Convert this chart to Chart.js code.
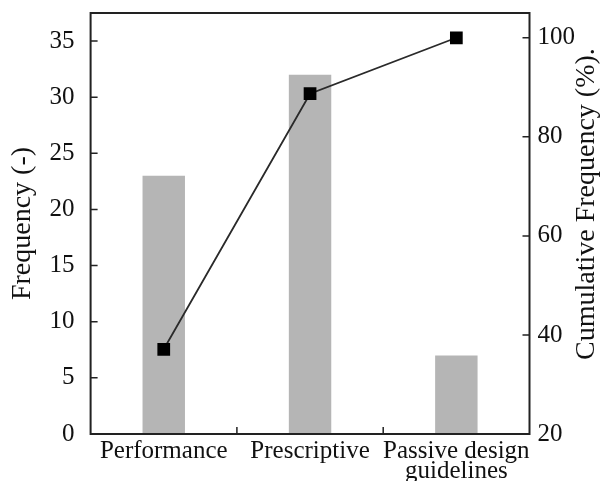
<!DOCTYPE html>
<html>
<head>
  <meta charset="utf-8">
  <title>Frequency and cumulative frequency</title>
  <script src="https://cdn.jsdelivr.net/npm/chart.js@4.4.1/dist/chart.umd.min.js"></script>
  <style>
    body { margin: 0; background: #fff; }
  </style>
</head>
<body>
  <canvas id="myChart" width="601" height="481"></canvas>

  <script>
    const categories = ['Performance', 'Prescriptive', ['Passive design', 'guidelines']];
    const frequency = [23, 32, 7];
    const cumulative = [37.1, 88.7, 100];

    const freqTicks = [0, 5, 10, 15, 20, 25, 30, 35];
    const cumTicks = [20, 40, 60, 80, 100];

    const serif = "'Liberation Serif', 'Times New Roman', serif";

    // inward ticks, frame box, and the right title (reads bottom to top like the left one)
    const frame = {
      id: 'frame',
      afterDraw(chart) {
        const { ctx, chartArea: a, scales } = chart;
        ctx.save();
        ctx.strokeStyle = '#222';
        ctx.lineWidth = 1.5;
        const len = 7;
        ctx.beginPath();
        freqTicks.forEach(v => {
          const y = scales.y.getPixelForValue(v);
          ctx.moveTo(a.left, y);
          ctx.lineTo(a.left + len, y);
        });
        cumTicks.forEach(v => {
          const y = scales.y2.getPixelForValue(v);
          ctx.moveTo(a.right, y);
          ctx.lineTo(a.right - len, y);
        });
        for (let i = 0; i < categories.length - 1; i++) {
          const x = (scales.x.getPixelForValue(i) + scales.x.getPixelForValue(i + 1)) / 2;
          ctx.moveTo(x, a.bottom);
          ctx.lineTo(x, a.bottom - len);
        }
        ctx.stroke();
        ctx.lineWidth = 2;
        ctx.strokeRect(a.left, a.top, a.right - a.left, a.bottom - a.top);

        ctx.translate(chart.width - 14, a.bottom - 74);
        ctx.rotate(-Math.PI / 2);
        ctx.fillStyle = '#111';
        ctx.font = '28px ' + serif;
        ctx.textAlign = 'left';
        ctx.textBaseline = 'middle';
        ctx.fillText('Cumulative Frequency (%).', 0, 0);
        ctx.restore();
      }
    };

    const noTopPad = scale => { scale.paddingTop = 0; };

    const ctx = document.getElementById('myChart').getContext('2d');
    const myChart = new Chart(ctx, {
      type: 'bar',
      data: {
        labels: categories,
        datasets: [{
          type: 'line',
          label: 'Cumulative Frequency',
          data: cumulative,
          yAxisID: 'y2',
          borderColor: '#2a2a2a',
          borderWidth: 1.8,
          pointStyle: 'rect',
          pointRadius: 9,
          pointBackgroundColor: '#000',
          pointBorderColor: '#000',
          pointBorderWidth: 0,
          order: 0
        }, {
          label: 'Frequency',
          data: frequency,
          yAxisID: 'y',
          backgroundColor: '#b5b5b5',
          barPercentage: 0.29,
          categoryPercentage: 1,
          order: 1
        }]
      },
      options: {
        responsive: false,
        animation: false,
        layout: { padding: { top: 13, left: 6, right: 26, bottom: 0 } },
        plugins: {
          legend: { display: false },
          tooltip: { enabled: false }
        },
        scales: {
          x: {
            grid: { display: false },
            border: { display: false },
            ticks: {
              color: '#111',
              maxRotation: 0,
              autoSkip: false,
              padding: 0,
              font: { family: serif, size: 25, lineHeight: 0.78 }
            }
          },
          y: {
            position: 'left',
            min: 0,
            max: 37.5,
            afterFit: noTopPad,
            grid: { display: false },
            border: { display: false },
            ticks: {
              stepSize: 5,
              includeBounds: false,
              color: '#111',
              padding: 8,
              font: { family: serif, size: 25 }
            },
            title: {
              display: true,
              text: 'Frequency (-)',
              color: '#111',
              padding: { top: 0, bottom: 2 },
              font: { family: serif, size: 28 }
            }
          },
          y2: {
            position: 'right',
            min: 20,
            max: 105,
            afterFit: noTopPad,
            grid: { display: false },
            border: { display: false },
            ticks: {
              stepSize: 20,
              includeBounds: false,
              color: '#111',
              padding: 0,
              font: { family: serif, size: 25 }
            }
          }
        }
      },
      plugins: [frame]
    });
  </script>
</body>
</html>
